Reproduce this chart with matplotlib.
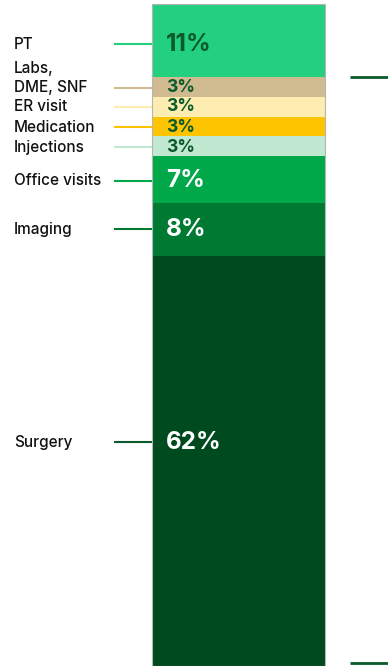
import matplotlib
matplotlib.use("Agg")
import matplotlib.pyplot as plt

# share of spend, top to bottom of the stacked bar
categories = ["PT", "Labs,\nDME, SNF", "ER visit", "Medication", "Injections",
              "Office visits", "Imaging", "Surgery"]
shares = [11, 3, 3, 3, 3, 7, 8, 62]
pct_labels = ["11%", "3%", "3%", "3%", "3%", "7%", "8%", "62%"]
colors = ["#22d07f", "#d0ba8f", "#feedb0", "#fec400", "#c1e8d1",
          "#00a84a", "#007a33", "#004a20"]
line_colors = ["#22d07f", "#d0ba8f", "#feedb0", "#fec400", "#c1e8d1",
               "#00a84a", "#007a33", "#0b5a2b"]
text_colors = ["#0b5a2b", "#0b5a2b", "#0b5a2b", "#0b5a2b", "#0b5a2b",
               "white", "white", "white"]
big_label = [True, False, False, False, False, True, True, True]
# where the label sits inside its segment (0 = top, 1 = bottom)
label_frac = [0.55, 0.55, 0.5, 0.53, 0.55, 0.53, 0.5, 0.455]

plt.rcParams['font.family'] = ['Inter', 'DejaVu Sans']

fig = plt.figure(figsize=(3.88, 6.66), dpi=100)
ax = fig.add_axes([0, 0, 1, 1])
ax.set_xlim(0, 388)
ax.set_ylim(100, -0.604)
ax.axis('off')

bar_x = 238.5
bar_w = 173
line_gap = 2.9  # spacing between lines of a two-line label, in % units
bottom = 0
for cat, s, pl, c, lc, tc, big, fr in zip(categories, shares, pct_labels, colors,
                                          line_colors, text_colors, big_label,
                                          label_frac):
    ax.bar(bar_x, s, bottom=bottom, width=bar_w, color=c,
           edgecolor='none', zorder=2)
    ly = bottom + s * fr
    ax.text(166, ly, pl, color=tc, fontsize=17.5 if big else 12.5,
            fontweight='bold', va='center', ha='left', zorder=3)
    ax.plot([114, 152], [ly, ly], color=lc, lw=1.5, zorder=1,
            solid_capstyle='butt')
    parts = cat.split("\n")
    for i, t in enumerate(reversed(parts)):
        ax.text(14, ly - i * line_gap, t, fontsize=11, color='#111111',
                fontweight='medium', va='center', ha='left')
    bottom += s

# thin outline around the whole bar
ax.bar(bar_x, sum(shares), bottom=0, width=bar_w, color='none',
       edgecolor='#b5b5b5', lw=0.8, zorder=4)

# edge of the neighbouring bracket, cut off at the right
for yy in [shares[0], 99.6]:
    ax.plot([350, 388], [yy, yy], color='#0b5a2b', lw=2, zorder=1,
            solid_capstyle='butt')

fig.savefig("out.png", dpi=100)
